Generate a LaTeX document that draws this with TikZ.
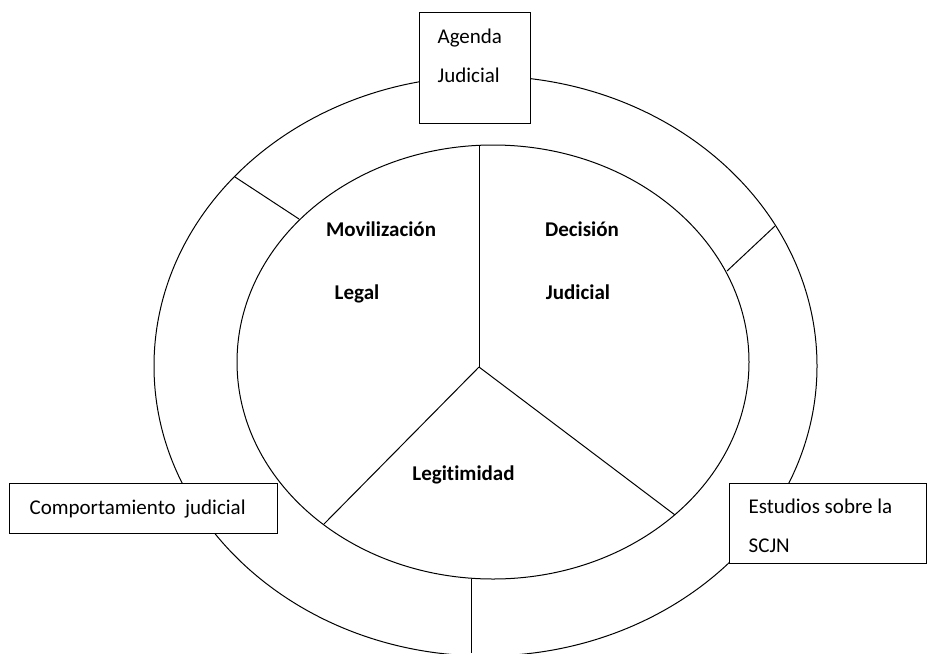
\documentclass[tikz,border=0pt]{standalone}
\usepackage{fontspec}
\setmainfont{Carlito}[Ligatures=NoCommon]
\tikzset{%
ring/.style={draw,line width=1pt},
box/.style={draw,line width=1.2pt,fill=white,anchor=north west,align=flush left,
            text height=15pt,font=\fontsize{21pt}{39.5pt}\selectfont},
part/.style={anchor=base,font=\bfseries\fontsize{21pt}{25pt}\selectfont}
}
\begin{document}
\begin{tikzpicture}[x=1pt,y=-1pt]
\useasboundingbox (0,0) rectangle (928,653);
\draw[ring] (485.5,366) ellipse [x radius=331.5,y radius=290];
\draw[ring] (493,362)   ellipse [x radius=256,y radius=217];

\coordinate (hub)     at (479,367);
\coordinate (topin)   at (479,145);
\coordinate (leftin)  at (324,524);
\coordinate (rightin) at (675,515);
\coordinate (ulin)    at (299,219);
\coordinate (ulout)   at (235,177);
\coordinate (urin)    at (727,271);
\coordinate (urout)   at (775,226);
\coordinate (botin)   at (471,579);
\coordinate (botout)  at (471,653);
\foreach \e in {topin,leftin,rightin}
  \draw[ring] (hub) -- (\e);
\foreach \i/\o in {ulin/ulout,
                   urin/urout,
                   botin/botout}
{
  \draw[ring] (\i) -- (\o);
}

\node[part] (movil)  at (381,236) {Movilización};
\node[part] (legal)  at (357,299) {Legal};
\node[part] (decis)  at (582,236) {Decisión};
\node[part] (judic)  at (578,299) {Judicial};
\node[part] (legit)  at (463.5,480) {Legitimidad};

\node[box,minimum height=111pt,text width=75pt,inner xsep=18pt,text depth=65pt]  (agenda)   at (419,12)  {Agenda\\Judicial};
\node[box,minimum height=50pt,text width=228pt,inner xsep=20pt,text depth=4pt]  (comport)  at (9,483)   {Comportamiento\ \ judicial};
\node[box,minimum height=80pt,text width=159pt,inner xsep=19pt,text depth=36pt] (estudios) at (729,483) {Estudios sobre la\\SCJN};
\end{tikzpicture}
\end{document}
